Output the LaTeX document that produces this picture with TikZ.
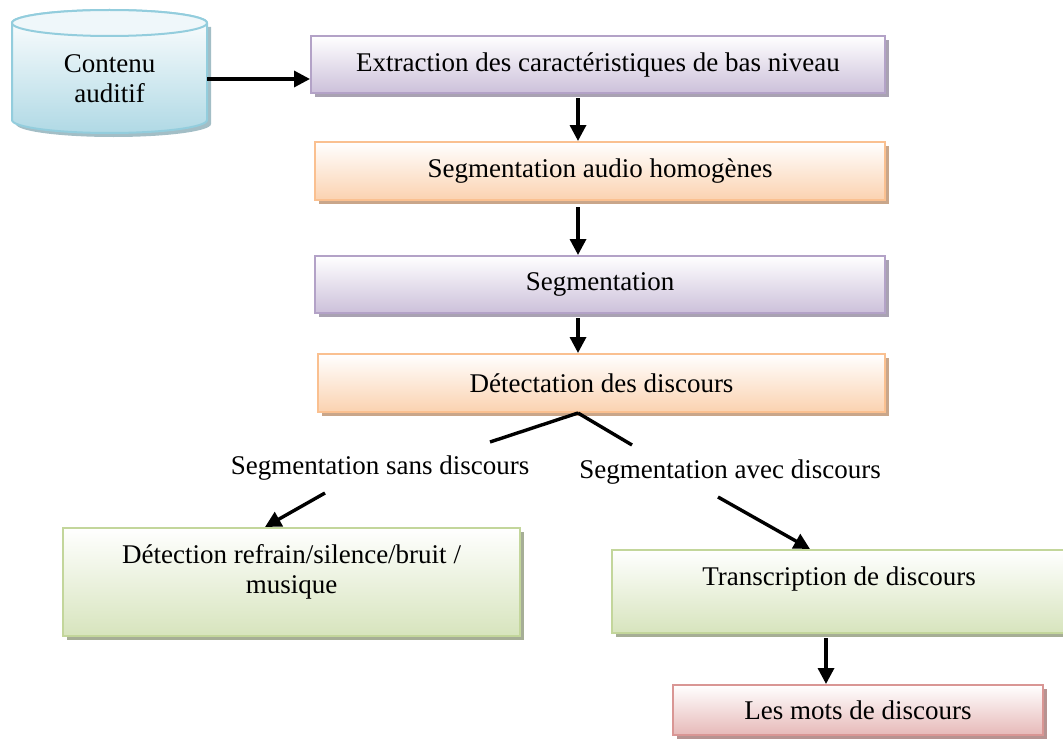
\documentclass[tikz,border=0pt]{standalone}
\usepackage{fontspec}
\setmainfont{Liberation Serif}
\usetikzlibrary{arrows.meta,shadows}

\definecolor{cylborder}{HTML}{93CDDD}
\definecolor{cylfill}{HTML}{B0D9E5}
\definecolor{cylshadow}{HTML}{A3BEC6}
\definecolor{purpborder}{HTML}{B3A2C7}
\definecolor{purpfill}{HTML}{CCC0DA}
\definecolor{purpshadow}{HTML}{A9A2B2}
\definecolor{orborder}{HTML}{FAC090}
\definecolor{orfill}{HTML}{FBD2B0}
\definecolor{orshadow}{HTML}{C9A68A}
\definecolor{grborder}{HTML}{C3D69B}
\definecolor{grfill}{HTML}{D7E4BD}
\definecolor{grshadow}{HTML}{A6AE96}
\definecolor{rdborder}{HTML}{D99694}
\definecolor{rdfill}{HTML}{E6B9B8}
\definecolor{rdshadow}{HTML}{B79391}

\tikzset{
  box/.style={rectangle, line width=1pt, inner sep=0pt, font=\fontsize{13.5}{15}\selectfont},
  shadowed/.style={drop shadow={fill=#1, opacity=1, shadow xshift=2pt, shadow yshift=-2pt}},
  purplebox/.style={box, draw=purpborder, top color=white, bottom color=purpfill, shadowed=purpshadow},
  orangebox/.style={box, draw=orborder, top color=white, bottom color=orfill, shadowed=orshadow},
  greenbox/.style={box, draw=grborder, top color=white, bottom color=grfill, shadowed=grshadow},
  redbox/.style={box, draw=rdborder, top color=white, bottom color=rdfill, shadowed=rdshadow},
  txt/.style={font=\fontsize{13.5}{15}\selectfont, inner sep=1pt, align=center},
  arr/.style={line width=1.7pt, -{Triangle[length=8pt, width=8pt]}},
  seg/.style={line width=1.7pt},
}

\begin{document}
\begin{tikzpicture}[x=0.5pt, y=-0.5pt]
\useasboundingbox (0,0) rectangle (1063,738);
\clip (0,0) rectangle (1063,738);

% audio source cylinder
\fill[cylshadow] (16,27) -- (16,124) arc(180:360:48.75pt and 6.5pt) -- (211,27) -- cycle;
\shade[top color=white, bottom color=cylfill, draw=cylborder, line width=1pt]
  (12,23) -- (12,120) arc(180:360:48.75pt and 6.5pt) -- (207,23) arc(0:180:48.75pt and 6.5pt) -- cycle;
\draw[cylborder, line width=1pt, fill=white!80!cylfill] (109.5,23) ellipse (48.75pt and 6.5pt);
\node[txt, minimum width=97.5pt] (src) at (109.5,79) {Contenu\\auditif};

% processing chain
\node[purplebox, minimum width=287pt, minimum height=28.5pt] (b1) at (598,64.5) {Extraction des caractéristiques de bas niveau};
\node[orangebox, minimum width=285pt, minimum height=29pt] (b2) at (600,171) {Segmentation audio homogènes};
\node[purplebox, minimum width=285pt, minimum height=28.5pt] (b3) at (600,284.5) {Segmentation};
\node[orangebox, minimum width=283.5pt, minimum height=29pt] (b4) at (601.5,383) {Détectation des discours};

% branches
\node[greenbox, minimum width=228.5pt, minimum height=54pt] (b5) at (291.5,582) {};
\node[txt] (b5t) at (291.5,571.5) {Détection refrain/silence/bruit /\\musique};
\node[greenbox, minimum width=227pt, minimum height=41.5pt] (b6) at (839,591.5) {};
\node[txt] (b6t) at (839,579) {Transcription de discours};
\node[redbox, minimum width=185pt, minimum height=25pt] (b7) at (858,710) {Les mots de discours};

\node[txt] (lsans) at (380,468) {Segmentation sans discours};
\node[txt] (lavec) at (730,472) {Segmentation avec discours};

% guide coordinates for the connectors
\coordinate (ax) at (578,0);
\coordinate (lx) at (265,0);
\coordinate (rx) at (810,0);
\coordinate (dx) at (826,0);
\coordinate (ls) at (490,442);
\coordinate (rs) at (632,445);
\coordinate (lt) at (325,493);
\coordinate (rt) at (718,497);

% connectors
\draw[arr] (src.east) -- (b1.west |- src.east);
\draw[arr] ([yshift=-2pt]b1.south -| ax) -- (b2.north -| ax);
\draw[arr] ([yshift=-3pt]b2.south -| ax) -- (b3.north -| ax);
\draw[arr] ([yshift=-2pt]b3.south -| ax) -- (b4.north -| ax);
\draw[seg] (b4.south -| ax) -- (ls);
\draw[seg] (b4.south -| ax) -- (rs);
\draw[arr] (lt) -- (b5.north -| lx);
\draw[arr] (rt) -- (b6.north -| rx);
\draw[arr] ([yshift=-2pt]b6.south -| dx) -- (b7.north -| dx);
\end{tikzpicture}
\end{document}
